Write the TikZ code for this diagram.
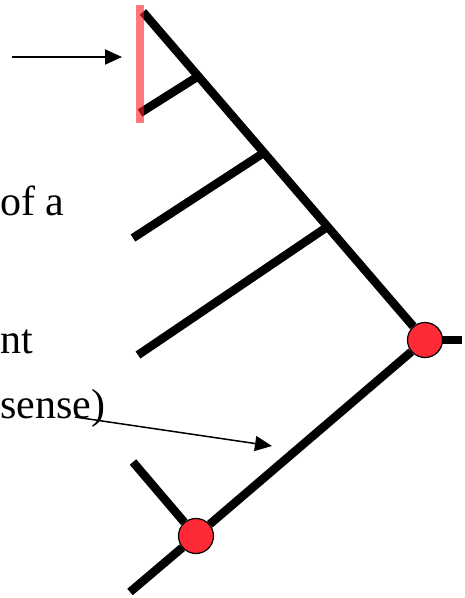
\documentclass[tikz,border=0pt]{standalone}
\usepackage{fontspec}
\setmainfont{Liberation Serif}
\usetikzlibrary{arrows.meta}

\definecolor{jointred}{RGB}{255,42,55}
\definecolor{barred}{RGB}{255,30,40}

\begin{document}
\begin{tikzpicture}[x=1pt,y=-1pt,
  branch/.style={line width=8.5pt},
  joint/.style={circle,draw=black,line width=1.2pt,fill=jointred,minimum size=35pt,inner sep=0pt},
  pointer/.style={-{Triangle[length=17pt,width=15pt]}},
  lbl/.style={anchor=base west,inner sep=0pt,font=\fontsize{42}{42}\selectfont}]
\useasboundingbox (0,0) rectangle (465,598);
% red joints
\node[joint] (upper) at (425,340) {};
\node[joint] (lower) at (196,536) {};
% points on the main stem
\coordinate (apex) at (143,12);
\coordinate (b1) at (197,77);
\coordinate (b2) at (265,152);
\coordinate (b3) at (330,225);
% free ends of the side branches
\coordinate (e1) at (140,113);
\coordinate (e2) at (133,238);
\coordinate (e3) at (138,355);
\coordinate (e4) at (133,462);
\coordinate (stub) at (462,340);
\coordinate (foot) at (130,592);
\draw[branch] (apex) -- (upper);
\draw[branch] (upper) -- (lower);
\draw[branch] (lower) -- (foot);
\draw[branch] (upper) -- (stub);
\draw[branch] (b1) -- (e1);
\draw[branch] (b2) -- (e2);
\draw[branch] (b3) -- (e3);
\draw[branch] (lower) -- (e4);
% highlighted edge
\coordinate (bartop) at (140,5);
\coordinate (barbot) at (140,123);
\draw[barred,draw opacity=0.6,line width=8pt] (bartop) -- (barbot);
% labels and arrows
\node[lbl] (ofa) at (0,215) {of a};
\node[lbl] (nt) at (0,353) {nt};
\node[lbl] (sense) at (0,418) {sense)};
\coordinate (a1) at (12,57);
\coordinate (a1end) at (122,57);
\draw[pointer,line width=2pt] (a1) -- (a1end);
\coordinate (a2) at (75,417);
\coordinate (a2end) at (272,446);
\draw[pointer,line width=1.5pt] (a2) -- (a2end);
\end{tikzpicture}
\end{document}
